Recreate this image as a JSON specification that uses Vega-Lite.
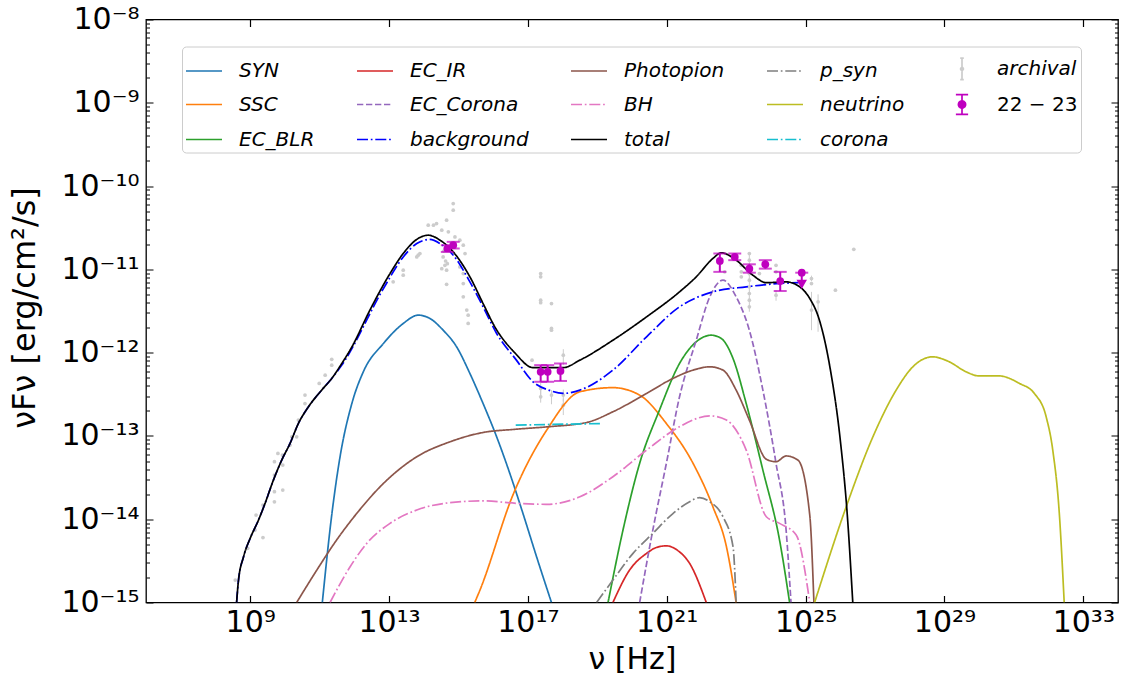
{
  "$schema": "https://vega.github.io/schema/vega-lite/v6.json",
  "width": 972,
  "height": 583,
  "autosize": {"type": "none"},
  "padding": {"left": 146, "top": 19.5, "right": 5, "bottom": 76.5},
  "background": "white",
  "config": {
    "view": {"stroke": "black", "strokeWidth": 1.3},
    "font": "DejaVu Sans",
    "axis": {"grid": false, "domain": false, "tickColor": "black", "labelColor": "black", "titleColor": "black", "titleFontWeight": "normal", "labelFont": "DejaVu Sans", "titleFont": "DejaVu Sans"}
  },
  "datasets": {
    "curves": [
      {"series": "SYN", "nu": 1.2e11, "flux": 1e-15},
      {"series": "SYN", "nu": 2.24e11, "flux": 1.12e-14},
      {"series": "SYN", "nu": 3.89e11, "flux": 5.62e-14},
      {"series": "SYN", "nu": 8.51e11, "flux": 2.45e-13},
      {"series": "SYN", "nu": 1.82e12, "flux": 5.89e-13},
      {"series": "SYN", "nu": 6.92e12, "flux": 1.29e-12},
      {"series": "SYN", "nu": 2.57e13, "flux": 2.24e-12},
      {"series": "SYN", "nu": 6.92e13, "flux": 2.82e-12},
      {"series": "SYN", "nu": 1.51e14, "flux": 2.57e-12},
      {"series": "SYN", "nu": 3.63e14, "flux": 1.86e-12},
      {"series": "SYN", "nu": 8.91e14, "flux": 1.17e-12},
      {"series": "SYN", "nu": 2.14e15, "flux": 5.62e-13},
      {"series": "SYN", "nu": 5.13e15, "flux": 2.45e-13},
      {"series": "SYN", "nu": 1.26e16, "flux": 9.77e-14},
      {"series": "SYN", "nu": 3.02e16, "flux": 3.55e-14},
      {"series": "SYN", "nu": 7.24e16, "flux": 1.17e-14},
      {"series": "SYN", "nu": 1.78e17, "flux": 3.55e-15},
      {"series": "SYN", "nu": 4.79e17, "flux": 1e-15},
      {"series": "SSC", "nu": 2.95e15, "flux": 1e-15},
      {"series": "SSC", "nu": 4.17e15, "flux": 1.41e-15},
      {"series": "SSC", "nu": 3.8e16, "flux": 2.0e-14},
      {"series": "SSC", "nu": 3.47e17, "flux": 1.17e-13},
      {"series": "SSC", "nu": 3.16e18, "flux": 3.39e-13},
      {"series": "SSC", "nu": 2.82e19, "flux": 3.8e-13},
      {"series": "SSC", "nu": 1.66e20, "flux": 3.09e-13},
      {"series": "SSC", "nu": 9.77e20, "flux": 1.41e-13},
      {"series": "SSC", "nu": 5.75e21, "flux": 4.68e-14},
      {"series": "SSC", "nu": 2.14e22, "flux": 1.41e-14},
      {"series": "SSC", "nu": 5.25e22, "flux": 4.68e-15},
      {"series": "SSC", "nu": 1e23, "flux": 1e-15},
      {"series": "EC_BLR", "nu": 2.04e19, "flux": 1e-15},
      {"series": "EC_BLR", "nu": 5.5e19, "flux": 7.41e-15},
      {"series": "EC_BLR", "nu": 1.66e20, "flux": 4.68e-14},
      {"series": "EC_BLR", "nu": 6.17e20, "flux": 2.04e-13},
      {"series": "EC_BLR", "nu": 2.34e21, "flux": 7.41e-13},
      {"series": "EC_BLR", "nu": 7.08e21, "flux": 1.35e-12},
      {"series": "EC_BLR", "nu": 1.91e22, "flux": 1.62e-12},
      {"series": "EC_BLR", "nu": 3.72e22, "flux": 1.48e-12},
      {"series": "EC_BLR", "nu": 8.13e22, "flux": 8.51e-13},
      {"series": "EC_BLR", "nu": 1.95e23, "flux": 2.45e-13},
      {"series": "EC_BLR", "nu": 5.89e23, "flux": 3.89e-14},
      {"series": "EC_BLR", "nu": 1.78e24, "flux": 5.62e-15},
      {"series": "EC_BLR", "nu": 3.47e24, "flux": 1e-15},
      {"series": "EC_IR", "nu": 2.82e19, "flux": 1e-15},
      {"series": "EC_IR", "nu": 8.51e19, "flux": 2.45e-15},
      {"series": "EC_IR", "nu": 2.63e20, "flux": 3.89e-15},
      {"series": "EC_IR", "nu": 5.01e20, "flux": 4.57e-15},
      {"series": "EC_IR", "nu": 9.77e20, "flux": 4.79e-15},
      {"series": "EC_IR", "nu": 2.14e21, "flux": 4.17e-15},
      {"series": "EC_IR", "nu": 4.57e21, "flux": 2.95e-15},
      {"series": "EC_IR", "nu": 1.38e22, "flux": 1e-15},
      {"series": "EC_Corona", "nu": 1.66e20, "flux": 1e-15},
      {"series": "EC_Corona", "nu": 3.98e20, "flux": 7.41e-15},
      {"series": "EC_Corona", "nu": 9.77e20, "flux": 4.68e-14},
      {"series": "EC_Corona", "nu": 2.34e21, "flux": 2.95e-13},
      {"series": "EC_Corona", "nu": 7.08e21, "flux": 1.41e-12},
      {"series": "EC_Corona", "nu": 1.74e22, "flux": 4.68e-12},
      {"series": "EC_Corona", "nu": 4.17e22, "flux": 7.41e-12},
      {"series": "EC_Corona", "nu": 1e23, "flux": 4.68e-12},
      {"series": "EC_Corona", "nu": 2.4e23, "flux": 1.86e-12},
      {"series": "EC_Corona", "nu": 5.89e23, "flux": 3.55e-13},
      {"series": "EC_Corona", "nu": 1.41e24, "flux": 4.68e-14},
      {"series": "EC_Corona", "nu": 2.75e24, "flux": 7.41e-15},
      {"series": "EC_Corona", "nu": 3.8e24, "flux": 1e-15},
      {"series": "Photopion", "nu": 2.19e10, "flux": 1e-15},
      {"series": "Photopion", "nu": 8.32e10, "flux": 2.45e-15},
      {"series": "Photopion", "nu": 3.09e11, "flux": 5.62e-15},
      {"series": "Photopion", "nu": 1.17e12, "flux": 1.17e-14},
      {"series": "Photopion", "nu": 6.92e12, "flux": 2.69e-14},
      {"series": "Photopion", "nu": 6.31e13, "flux": 5.62e-14},
      {"series": "Photopion", "nu": 5.75e14, "flux": 8.51e-14},
      {"series": "Photopion", "nu": 5.13e15, "flux": 1.1e-13},
      {"series": "Photopion", "nu": 4.17e16, "flux": 1.2e-13},
      {"series": "Photopion", "nu": 3.98e17, "flux": 1.29e-13},
      {"series": "Photopion", "nu": 4.9e18, "flux": 1.45e-13},
      {"series": "Photopion", "nu": 2.82e19, "flux": 1.95e-13},
      {"series": "Photopion", "nu": 2.63e20, "flux": 3.24e-13},
      {"series": "Photopion", "nu": 1.51e21, "flux": 4.9e-13},
      {"series": "Photopion", "nu": 5.75e21, "flux": 6.17e-13},
      {"series": "Photopion", "nu": 1.74e22, "flux": 6.76e-13},
      {"series": "Photopion", "nu": 4.17e22, "flux": 6.17e-13},
      {"series": "Photopion", "nu": 1e23, "flux": 3.55e-13},
      {"series": "Photopion", "nu": 2.4e23, "flux": 1.55e-13},
      {"series": "Photopion", "nu": 7.41e23, "flux": 5.25e-14},
      {"series": "Photopion", "nu": 1.41e24, "flux": 4.9e-14},
      {"series": "Photopion", "nu": 2.75e24, "flux": 5.75e-14},
      {"series": "Photopion", "nu": 6.03e24, "flux": 5.13e-14},
      {"series": "Photopion", "nu": 1.32e25, "flux": 1.12e-14},
      {"series": "Photopion", "nu": 1.74e25, "flux": 1e-15},
      {"series": "BH", "nu": 2.0e11, "flux": 1e-15},
      {"series": "BH", "nu": 7.59e11, "flux": 2.69e-15},
      {"series": "BH", "nu": 2.29e12, "flux": 5.13e-15},
      {"series": "BH", "nu": 1.07e13, "flux": 8.91e-15},
      {"series": "BH", "nu": 6.31e13, "flux": 1.29e-14},
      {"series": "BH", "nu": 5.75e14, "flux": 1.58e-14},
      {"series": "BH", "nu": 5.13e15, "flux": 1.66e-14},
      {"series": "BH", "nu": 4.68e16, "flux": 1.55e-14},
      {"series": "BH", "nu": 3.47e17, "flux": 1.51e-14},
      {"series": "BH", "nu": 3.16e18, "flux": 1.86e-14},
      {"series": "BH", "nu": 2.82e19, "flux": 3.24e-14},
      {"series": "BH", "nu": 2.63e20, "flux": 6.76e-14},
      {"series": "BH", "nu": 2.34e21, "flux": 1.29e-13},
      {"series": "BH", "nu": 1.74e22, "flux": 1.74e-13},
      {"series": "BH", "nu": 5.25e22, "flux": 1.55e-13},
      {"series": "BH", "nu": 1.95e23, "flux": 6.76e-14},
      {"series": "BH", "nu": 7.41e23, "flux": 1.07e-14},
      {"series": "BH", "nu": 1.78e24, "flux": 8.91e-15},
      {"series": "BH", "nu": 5.37e24, "flux": 6.46e-15},
      {"series": "BH", "nu": 1.32e25, "flux": 1e-15},
      {"series": "p_syn", "nu": 9.55e18, "flux": 1e-15},
      {"series": "p_syn", "nu": 2.82e19, "flux": 1.86e-15},
      {"series": "p_syn", "nu": 1.07e20, "flux": 3.89e-15},
      {"series": "p_syn", "nu": 3.98e20, "flux": 6.76e-15},
      {"series": "p_syn", "nu": 1.51e21, "flux": 1.17e-14},
      {"series": "p_syn", "nu": 4.57e21, "flux": 1.62e-14},
      {"series": "p_syn", "nu": 8.91e21, "flux": 1.82e-14},
      {"series": "p_syn", "nu": 1.74e22, "flux": 1.62e-14},
      {"series": "p_syn", "nu": 4.17e22, "flux": 1.07e-14},
      {"series": "p_syn", "nu": 8.13e22, "flux": 4.68e-15},
      {"series": "p_syn", "nu": 1e23, "flux": 1e-15},
      {"series": "neutrino", "nu": 1.82e25, "flux": 1e-15},
      {"series": "neutrino", "nu": 1.48e26, "flux": 1.41e-14},
      {"series": "neutrino", "nu": 8.71e26, "flux": 9.77e-14},
      {"series": "neutrino", "nu": 4.07e27, "flux": 3.55e-13},
      {"series": "neutrino", "nu": 1.23e28, "flux": 6.76e-13},
      {"series": "neutrino", "nu": 4.57e28, "flux": 8.91e-13},
      {"series": "neutrino", "nu": 1.38e29, "flux": 7.76e-13},
      {"series": "neutrino", "nu": 4.17e29, "flux": 5.89e-13},
      {"series": "neutrino", "nu": 1.02e30, "flux": 5.25e-13},
      {"series": "neutrino", "nu": 3.8e30, "flux": 5.25e-13},
      {"series": "neutrino", "nu": 1.45e31, "flux": 4.27e-13},
      {"series": "neutrino", "nu": 3.89e31, "flux": 3.24e-13},
      {"series": "neutrino", "nu": 8.51e31, "flux": 1.7e-13},
      {"series": "neutrino", "nu": 1.32e32, "flux": 6.76e-14},
      {"series": "neutrino", "nu": 2.04e32, "flux": 1.17e-14},
      {"series": "neutrino", "nu": 2.82e32, "flux": 1e-15},
      {"series": "corona", "nu": 4.47e16, "flux": 1.35e-13},
      {"series": "corona", "nu": 1.41e19, "flux": 1.41e-13},
      {"series": "background", "nu": 4.07e8, "flux": 1e-15},
      {"series": "background", "nu": 4.57e8, "flux": 1.78e-15},
      {"series": "background", "nu": 6.46e8, "flux": 3.55e-15},
      {"series": "background", "nu": 1e9, "flux": 5.89e-15},
      {"series": "background", "nu": 1.74e9, "flux": 9.77e-15},
      {"series": "background", "nu": 2.69e9, "flux": 1.55e-14},
      {"series": "background", "nu": 4.68e9, "flux": 2.95e-14},
      {"series": "background", "nu": 8.13e9, "flux": 5.13e-14},
      {"series": "background", "nu": 1.41e10, "flux": 8.13e-14},
      {"series": "background", "nu": 2.45e10, "flux": 1.41e-13},
      {"series": "background", "nu": 4.79e10, "flux": 2.24e-13},
      {"series": "background", "nu": 1.15e11, "flux": 3.55e-13},
      {"series": "background", "nu": 2.24e11, "flux": 4.9e-13},
      {"series": "background", "nu": 4.37e11, "flux": 7.08e-13},
      {"series": "background", "nu": 6.92e12, "flux": 5.89e-12},
      {"series": "background", "nu": 2.57e13, "flux": 1.41e-11},
      {"series": "background", "nu": 6.31e13, "flux": 2.04e-11},
      {"series": "background", "nu": 1.51e14, "flux": 2.29e-11},
      {"series": "background", "nu": 2.95e14, "flux": 2.04e-11},
      {"series": "background", "nu": 7.08e14, "flux": 1.48e-11},
      {"series": "background", "nu": 2.14e15, "flux": 7.08e-12},
      {"series": "background", "nu": 5.13e15, "flux": 3.55e-12},
      {"series": "background", "nu": 1.26e16, "flux": 1.7e-12},
      {"series": "background", "nu": 4.68e16, "flux": 8.13e-13},
      {"series": "background", "nu": 1.41e17, "flux": 4.47e-13},
      {"series": "background", "nu": 3.98e17, "flux": 3.55e-13},
      {"series": "background", "nu": 1.05e18, "flux": 3.24e-13},
      {"series": "background", "nu": 3.16e18, "flux": 3.55e-13},
      {"series": "background", "nu": 2.82e19, "flux": 6.17e-13},
      {"series": "background", "nu": 2.63e20, "flux": 1.55e-12},
      {"series": "background", "nu": 2.34e21, "flux": 3.55e-12},
      {"series": "background", "nu": 2.14e22, "flux": 5.37e-12},
      {"series": "background", "nu": 1.95e23, "flux": 6.17e-12},
      {"series": "background", "nu": 1.78e24, "flux": 6.76e-12},
      {"series": "background", "nu": 6.31e24, "flux": 6.92e-12},
      {"series": "total", "nu": 4.07e8, "flux": 1e-15},
      {"series": "total", "nu": 4.57e8, "flux": 1.78e-15},
      {"series": "total", "nu": 6.46e8, "flux": 3.55e-15},
      {"series": "total", "nu": 1e9, "flux": 5.89e-15},
      {"series": "total", "nu": 1.74e9, "flux": 9.77e-15},
      {"series": "total", "nu": 2.69e9, "flux": 1.55e-14},
      {"series": "total", "nu": 4.68e9, "flux": 2.95e-14},
      {"series": "total", "nu": 8.13e9, "flux": 5.13e-14},
      {"series": "total", "nu": 1.41e10, "flux": 8.13e-14},
      {"series": "total", "nu": 2.45e10, "flux": 1.41e-13},
      {"series": "total", "nu": 4.79e10, "flux": 2.24e-13},
      {"series": "total", "nu": 1.15e11, "flux": 3.55e-13},
      {"series": "total", "nu": 2.24e11, "flux": 4.9e-13},
      {"series": "total", "nu": 4.37e11, "flux": 7.41e-13},
      {"series": "total", "nu": 8.51e11, "flux": 1.17e-12},
      {"series": "total", "nu": 2.82e12, "flux": 3.24e-12},
      {"series": "total", "nu": 1.07e13, "flux": 8.91e-12},
      {"series": "total", "nu": 2.57e13, "flux": 1.55e-11},
      {"series": "total", "nu": 6.31e13, "flux": 2.29e-11},
      {"series": "total", "nu": 1.35e14, "flux": 2.57e-11},
      {"series": "total", "nu": 2.95e14, "flux": 2.24e-11},
      {"series": "total", "nu": 7.08e14, "flux": 1.62e-11},
      {"series": "total", "nu": 2.14e15, "flux": 8.13e-12},
      {"series": "total", "nu": 5.13e15, "flux": 3.89e-12},
      {"series": "total", "nu": 1.12e16, "flux": 2.04e-12},
      {"series": "total", "nu": 4.17e16, "flux": 1.0e-12},
      {"series": "total", "nu": 1.41e17, "flux": 6.61e-13},
      {"series": "total", "nu": 1.05e18, "flux": 6.61e-13},
      {"series": "total", "nu": 3.16e18, "flux": 8.13e-13},
      {"series": "total", "nu": 2.82e19, "flux": 1.41e-12},
      {"series": "total", "nu": 2.63e20, "flux": 2.69e-12},
      {"series": "total", "nu": 2.34e21, "flux": 5.37e-12},
      {"series": "total", "nu": 7.08e21, "flux": 8.13e-12},
      {"series": "total", "nu": 2.14e22, "flux": 1.35e-11},
      {"series": "total", "nu": 3.72e22, "flux": 1.58e-11},
      {"series": "total", "nu": 1e23, "flux": 1.29e-11},
      {"series": "total", "nu": 3.02e23, "flux": 8.51e-12},
      {"series": "total", "nu": 7.41e23, "flux": 6.92e-12},
      {"series": "total", "nu": 2.75e24, "flux": 7.08e-12},
      {"series": "total", "nu": 6.76e24, "flux": 6.17e-12},
      {"series": "total", "nu": 1.32e25, "flux": 4.47e-12},
      {"series": "total", "nu": 2.51e25, "flux": 2.45e-12},
      {"series": "total", "nu": 5.01e25, "flux": 6.76e-13},
      {"series": "total", "nu": 1e26, "flux": 8.91e-14},
      {"series": "total", "nu": 1.58e26, "flux": 1.17e-14},
      {"series": "total", "nu": 2.29e26, "flux": 1e-15}
    ],
    "archival": [
      {"nu": 3.72e8, "flux": 1.86e-15},
      {"nu": 8.51e8, "flux": 4.47e-15},
      {"nu": 1.38e9, "flux": 7.41e-15},
      {"nu": 1.48e9, "flux": 1.12e-14},
      {"nu": 2.34e9, "flux": 6.03e-15},
      {"nu": 2.34e9, "flux": 1.48e-14},
      {"nu": 5.01e9, "flux": 1.62e-14},
      {"nu": 5.01e9, "flux": 2.14e-14},
      {"nu": 5.01e9, "flux": 3.39e-14},
      {"nu": 5.01e9, "flux": 4.9e-14},
      {"nu": 6.31e9, "flux": 6.17e-14},
      {"nu": 8.71e9, "flux": 2.24e-14},
      {"nu": 8.71e9, "flux": 4.47e-14},
      {"nu": 8.51e9, "flux": 5.89e-14},
      {"nu": 1.41e10, "flux": 7.76e-14},
      {"nu": 1.58e10, "flux": 9.77e-14},
      {"nu": 2.19e10, "flux": 9.77e-14},
      {"nu": 2.45e10, "flux": 1.55e-13},
      {"nu": 3.8e10, "flux": 2.45e-13},
      {"nu": 3.8e10, "flux": 3.09e-13},
      {"nu": 9.77e10, "flux": 4.27e-13},
      {"nu": 1.45e11, "flux": 5.37e-13},
      {"nu": 2.24e11, "flux": 7.08e-13},
      {"nu": 2.24e11, "flux": 8.32e-13},
      {"nu": 1.32e13, "flux": 7.08e-12},
      {"nu": 2.57e13, "flux": 9.77e-12},
      {"nu": 2.57e13, "flux": 8.51e-12},
      {"nu": 6.31e13, "flux": 1.41e-11},
      {"nu": 7.76e13, "flux": 1.55e-11},
      {"nu": 6.92e13, "flux": 1.48e-11},
      {"nu": 1.35e14, "flux": 3.39e-11},
      {"nu": 1.91e14, "flux": 3.39e-11},
      {"nu": 2.34e14, "flux": 3.55e-11},
      {"nu": 3.31e14, "flux": 2.95e-11},
      {"nu": 5.13e14, "flux": 2.82e-11},
      {"nu": 4.57e14, "flux": 3.89e-11},
      {"nu": 7.08e14, "flux": 6.17e-11},
      {"nu": 7.08e14, "flux": 5.13e-11},
      {"nu": 7.94e14, "flux": 2.45e-11},
      {"nu": 1.1e15, "flux": 2.24e-11},
      {"nu": 1.38e15, "flux": 1.95e-11},
      {"nu": 1.55e15, "flux": 1.55e-11},
      {"nu": 3.63e14, "flux": 1.41e-11},
      {"nu": 4.07e14, "flux": 1.12e-11},
      {"nu": 4.57e14, "flux": 9.77e-12},
      {"nu": 3.31e14, "flux": 1.02e-11},
      {"nu": 4.27e14, "flux": 1.26e-11},
      {"nu": 4.79e14, "flux": 1.17e-11},
      {"nu": 3.8e14, "flux": 1.66e-11},
      {"nu": 1.1e15, "flux": 1.07e-11},
      {"nu": 1.38e15, "flux": 8.91e-12},
      {"nu": 4.57e14, "flux": 6.61e-12},
      {"nu": 1.38e15, "flux": 6.76e-12},
      {"nu": 1.38e15, "flux": 4.68e-12},
      {"nu": 1.74e15, "flux": 3.24e-12},
      {"nu": 1.91e15, "flux": 2.82e-12},
      {"nu": 1.91e15, "flux": 2.24e-12},
      {"nu": 2.34e17, "flux": 8.91e-12},
      {"nu": 2.34e17, "flux": 8.13e-12},
      {"nu": 2.34e17, "flux": 4.27e-12},
      {"nu": 2.34e17, "flux": 3.98e-12},
      {"nu": 4.79e17, "flux": 3.89e-12},
      {"nu": 4.79e17, "flux": 1.95e-12},
      {"nu": 4.79e17, "flux": 1.86e-12},
      {"nu": 1.32e17, "flux": 8.13e-13},
      {"nu": 2.34e17, "flux": 3.72e-13, "lo": 2.95e-13, "hi": 4.47e-13},
      {"nu": 2.34e17, "flux": 2.95e-13, "lo": 2.51e-13, "hi": 3.55e-13},
      {"nu": 4.79e17, "flux": 3.09e-13, "lo": 2.4e-13, "hi": 3.55e-13},
      {"nu": 1.05e18, "flux": 9.33e-13, "lo": 7.08e-13, "hi": 1.1e-12},
      {"nu": 1.05e18, "flux": 3.09e-13, "lo": 2.6e-13, "hi": 3.6e-13},
      {"nu": 1.05e18, "flux": 2.34e-13, "lo": 1.78e-13, "hi": 2.8e-13},
      {"nu": 4.68e22, "flux": 9.33e-12},
      {"nu": 1.41e23, "flux": 1.12e-11},
      {"nu": 1.41e23, "flux": 9.33e-12},
      {"nu": 1.41e23, "flux": 8.13e-12},
      {"nu": 2.4e23, "flux": 1.55e-11},
      {"nu": 2.4e23, "flux": 1.29e-11},
      {"nu": 2.4e23, "flux": 1.07e-11},
      {"nu": 2.4e23, "flux": 8.91e-12},
      {"nu": 2.4e23, "flux": 7.41e-12},
      {"nu": 2.4e23, "flux": 6.17e-12},
      {"nu": 2.4e23, "flux": 5.13e-12},
      {"nu": 2.4e23, "flux": 4.27e-12},
      {"nu": 2.4e23, "flux": 3.55e-12, "lo": 3.1e-12, "hi": 1.6e-11},
      {"nu": 4.68e23, "flux": 8.91e-12},
      {"nu": 1.41e24, "flux": 1.12e-11},
      {"nu": 1.41e24, "flux": 9.33e-12},
      {"nu": 1.41e24, "flux": 4.9e-12, "lo": 4.2e-12, "hi": 5.6e-12},
      {"nu": 1.48e25, "flux": 7.76e-12, "lo": 7.2e-12, "hi": 8.4e-12},
      {"nu": 1.48e25, "flux": 6.76e-12},
      {"nu": 1.48e25, "flux": 3.24e-12, "lo": 1.86e-12, "hi": 5.37e-12},
      {"nu": 2.29e25, "flux": 4.07e-12, "lo": 1.78e-12, "hi": 5.01e-12},
      {"nu": 7.24e25, "flux": 5.62e-12},
      {"nu": 2.45e26, "flux": 1.74e-11}
    ],
    "obs": [
      {"nu": 4.79e14, "flux": 1.78e-11, "lo": 1.62e-11, "hi": 1.95e-11, "ul": false},
      {"nu": 7.08e14, "flux": 1.95e-11, "lo": 1.78e-11, "hi": 2.14e-11, "ul": false},
      {"nu": 2.34e17, "flux": 5.89e-13, "lo": 4.47e-13, "hi": 7.08e-13, "ul": false},
      {"nu": 3.72e17, "flux": 5.89e-13, "lo": 4.47e-13, "hi": 7.08e-13, "ul": false},
      {"nu": 8.71e17, "flux": 6.03e-13, "lo": 4.57e-13, "hi": 7.41e-13, "ul": false},
      {"nu": 3.39e22, "flux": 1.26e-11, "lo": 9.33e-12, "hi": 1.55e-11, "ul": false},
      {"nu": 9.12e22, "flux": 1.41e-11, "lo": 1.29e-11, "hi": 1.55e-11, "ul": false},
      {"nu": 2.4e23, "flux": 1.02e-11, "lo": 9.12e-12, "hi": 1.15e-11, "ul": false},
      {"nu": 6.92e23, "flux": 1.15e-11, "lo": 1.02e-11, "hi": 1.29e-11, "ul": false},
      {"nu": 1.86e24, "flux": 7.24e-12, "lo": 5.5e-12, "hi": 9.33e-12, "ul": false},
      {"nu": 7.76e24, "flux": 9.12e-12, "lo": 6.6e-12, "hi": 9.12e-12, "ul": true}
    ]
  },
  "layer": [
    {
      "data": {"name": "archival"},
      "transform": [{"filter": "isValid(datum.lo)"}],
      "mark": {"type": "rule", "color": "#cccccc", "strokeWidth": 1},
      "encoding": {
        "x": {"field": "nu", "type": "quantitative", "scale": {"type": "log", "domain": [1e6, 1e34]}, "axis": null},
        "y": {"field": "lo", "type": "quantitative", "scale": {"type": "log", "domain": [1e-15, 1e-8]}, "axis": null},
        "y2": {"field": "hi"}
      }
    },
    {
      "data": {"name": "archival"},
      "mark": {"type": "point", "filled": true, "shape": "circle", "size": 14, "color": "#cccccc", "opacity": 1},
      "encoding": {
        "x": {"field": "nu", "type": "quantitative", "axis": {"orient": "top", "values": [1e9, 1e13, 1e17, 1e21, 1e25, 1e29, 1e33], "tickSize": -7, "tickWidth": 1.2, "labels": false, "title": null}},
        "y": {"field": "flux", "type": "quantitative", "axis": {"orient": "right", "values": [1e-15,2e-15,3e-15,4e-15,5e-15,6e-15,7e-15,8e-15,9e-15,1e-14,2e-14,3e-14,4e-14,5e-14,6e-14,7e-14,8e-14,9e-14,1e-13,2e-13,3e-13,4e-13,5e-13,6e-13,7e-13,8e-13,9e-13,1e-12,2e-12,3e-12,4e-12,5e-12,6e-12,7e-12,8e-12,9e-12,1e-11,2e-11,3e-11,4e-11,5e-11,6e-11,7e-11,8e-11,9e-11,1e-10,2e-10,3e-10,4e-10,5e-10,6e-10,7e-10,8e-10,9e-10,1e-9,2e-9,3e-9,4e-9,5e-9,6e-9,7e-9,8e-9,9e-9,1e-8], "tickSize": {"condition": {"test": "abs(log(datum.value)/LN10 - round(log(datum.value)/LN10)) < 0.001", "value": -7}, "value": -3.5}, "tickWidth": 1, "labels": false, "title": null}}
      }
    },
    {
      "data": {"name": "curves"},
      "mark": {"type": "line", "strokeWidth": 1.7, "clip": true, "interpolate": "monotone"},
      "encoding": {
        "x": {"field": "nu", "type": "quantitative", "axis": {"orient": "bottom", "values": [1e9, 1e13, 1e17, 1e21, 1e25, 1e29, 1e33], "tickSize": -7, "tickWidth": 1.2, "labelFontSize": 30, "labelPadding": 12, "labelFlush": false, "labelOverlap": false, "labelExpr": "'10' + (round(log(datum.value)/LN10) >= 10 ? ['⁰','¹','²','³','⁴','⁵','⁶','⁷','⁸','⁹'][floor(round(log(datum.value)/LN10)/10)] : '') + ['⁰','¹','²','³','⁴','⁵','⁶','⁷','⁸','⁹'][round(log(datum.value)/LN10) % 10]", "title": "ν [Hz]", "titleFontSize": 30, "titlePadding": 7}},
        "y": {"field": "flux", "type": "quantitative", "axis": {"orient": "left", "values": [1e-15,2e-15,3e-15,4e-15,5e-15,6e-15,7e-15,8e-15,9e-15,1e-14,2e-14,3e-14,4e-14,5e-14,6e-14,7e-14,8e-14,9e-14,1e-13,2e-13,3e-13,4e-13,5e-13,6e-13,7e-13,8e-13,9e-13,1e-12,2e-12,3e-12,4e-12,5e-12,6e-12,7e-12,8e-12,9e-12,1e-11,2e-11,3e-11,4e-11,5e-11,6e-11,7e-11,8e-11,9e-11,1e-10,2e-10,3e-10,4e-10,5e-10,6e-10,7e-10,8e-10,9e-10,1e-9,2e-9,3e-9,4e-9,5e-9,6e-9,7e-9,8e-9,9e-9,1e-8], "tickSize": {"condition": {"test": "abs(log(datum.value)/LN10 - round(log(datum.value)/LN10)) < 0.001", "value": -7}, "value": -3.5}, "tickWidth": 1, "labelFontSize": 30, "labelPadding": 14, "labelFlush": false, "labelOverlap": false, "labelExpr": "abs(log(datum.value)/LN10 - round(log(datum.value)/LN10)) > 0.001 ? '' : '10⁻' + (-round(log(datum.value)/LN10) >= 10 ? ['⁰','¹','²','³','⁴','⁵','⁶','⁷','⁸','⁹'][floor(-round(log(datum.value)/LN10)/10)] : '') + ['⁰','¹','²','³','⁴','⁵','⁶','⁷','⁸','⁹'][(-round(log(datum.value)/LN10)) % 10]", "title": "νFν [erg/cm²/s]", "titleFontSize": 32, "titleX": -105, "titleY": 288}},
        "color": {"field": "series", "type": "nominal", "scale": {"domain": ["SYN","SSC","EC_BLR","EC_IR","EC_Corona","background","Photopion","BH","total","p_syn","neutrino","corona","archival","22 − 23"], "range": ["#1f77b4","#ff7f0e","#2ca02c","#d62728","#9467bd","#0000ff","#8c564b","#e377c2","#000000","#7f7f7f","#bcbd22","#17becf","#cccccc","#bf00bf"]}, "legend": {"title": null, "orient": "none", "legendX": 36, "legendY": 27, "columns": 5, "gridAlign": "each", "symbolSize": 1296, "symbolStrokeWidth": 1.7, "symbolOpacity": 1, "labelFont": "DejaVu Sans", "labelFontSize": 20, "labelColor": "black", "labelFontStyle": {"expr": "datum.label == '22 − 23' ? 'normal' : 'italic'"}, "labelOffset": 16, "labelLimit": 300, "columnPadding": 38, "rowPadding": 2, "padding": 3, "fillColor": "white", "strokeColor": "#cccccc", "cornerRadius": 4}},
        "strokeDash": {"field": "series", "type": "nominal", "scale": {"domain": ["SYN","SSC","EC_BLR","EC_IR","EC_Corona","background","Photopion","BH","total","p_syn","neutrino","corona","archival","22 − 23"], "range": [[1,0],[1,0],[1,0],[1,0],[6.3,2.7],[11,2.8,1.7,2.8],[1,0],[11,2.8,1.7,2.8],[1,0],[11,2.8,1.7,2.8],[1,0],[11,2.8,1.7,2.8],[1,0],[1,0]]}, "legend": {"title": null, "orient": "none", "legendX": 36, "legendY": 27, "columns": 5, "gridAlign": "each", "symbolSize": 1296, "symbolStrokeWidth": 1.7, "symbolOpacity": 1, "labelFont": "DejaVu Sans", "labelFontSize": 20, "labelColor": "black", "labelOffset": 16, "labelLimit": 300, "columnPadding": 38, "rowPadding": 2, "padding": 3, "fillColor": "white", "strokeColor": "#cccccc", "cornerRadius": 4}}
      }
    },
    {
      "data": {"name": "obs"},
      "mark": {"type": "rule", "color": "#bf00bf", "strokeWidth": 2},
      "encoding": {
        "x": {"field": "nu", "type": "quantitative", "axis": null},
        "y": {"field": "lo", "type": "quantitative", "axis": null},
        "y2": {"field": "hi"}
      }
    },
    {
      "data": {"name": "obs"},
      "transform": [{"filter": "!datum.ul"}],
      "mark": {"type": "tick", "orient": "horizontal", "color": "#bf00bf", "size": 13, "thickness": 2},
      "encoding": {
        "x": {"field": "nu", "type": "quantitative", "axis": null},
        "y": {"field": "lo", "type": "quantitative", "axis": null}
      }
    },
    {
      "data": {"name": "obs"},
      "mark": {"type": "tick", "orient": "horizontal", "color": "#bf00bf", "size": 13, "thickness": 2},
      "encoding": {
        "x": {"field": "nu", "type": "quantitative", "axis": null},
        "y": {"field": "hi", "type": "quantitative", "axis": null}
      }
    },
    {
      "data": {"name": "obs"},
      "transform": [{"filter": "datum.ul"}],
      "mark": {"type": "point", "shape": "triangle-down", "filled": true, "size": 110, "color": "#bf00bf", "opacity": 1},
      "encoding": {
        "x": {"field": "nu", "type": "quantitative", "axis": null},
        "y": {"field": "lo", "type": "quantitative", "axis": null}
      }
    },
    {
      "data": {"name": "obs"},
      "mark": {"type": "point", "shape": "circle", "filled": true, "size": 60, "color": "#bf00bf", "opacity": 1},
      "encoding": {
        "x": {"field": "nu", "type": "quantitative", "axis": null},
        "y": {"field": "flux", "type": "quantitative", "axis": null}
      }
    },
    {
      "data": {"name": "curves"},
      "mark": {"type": "point", "filled": true, "opacity": 0},
      "encoding": {
        "x": {"field": "nu", "type": "quantitative", "axis": null},
        "y": {"field": "flux", "type": "quantitative", "axis": null},
        "fill": {"field": "series", "type": "nominal", "scale": {"domain": ["SYN","SSC","EC_BLR","EC_IR","EC_Corona","background","Photopion","BH","total","p_syn","neutrino","corona","archival","22 − 23"], "range": ["#1f77b4","#ff7f0e","#2ca02c","#d62728","#9467bd","#0000ff","#8c564b","#e377c2","#000000","#7f7f7f","#bcbd22","#17becf","#cccccc","#bf00bf"]}, "legend": {"title": null, "orient": "none", "legendX": 36, "legendY": 27, "columns": 5, "gridAlign": "each", "symbolSize": 1296, "symbolStrokeWidth": 1.7, "symbolOpacity": 1, "labelFont": "DejaVu Sans", "labelFontSize": 20, "labelColor": "black", "labelOffset": 16, "labelLimit": 300, "columnPadding": 38, "rowPadding": 2, "padding": 3, "fillColor": "white", "strokeColor": "#cccccc", "cornerRadius": 4}},
        "shape": {"field": "series", "type": "nominal", "scale": {"domain": ["SYN","SSC","EC_BLR","EC_IR","EC_Corona","background","Photopion","BH","total","p_syn","neutrino","corona","archival","22 − 23"], "range": ["stroke","stroke","stroke","stroke","stroke","stroke","stroke","stroke","stroke","stroke","stroke","stroke","M0,-0.6V0.6M-0.1,-0.6H0.1M-0.1,0.6H0.1M-0.08,0A0.08,0.08 0 1,0 0.08,0A0.08,0.08 0 1,0 -0.08,0Z","M0,-0.55V0.55M-0.34,-0.55H0.34M-0.34,0.55H0.34M-0.2,0A0.2,0.2 0 1,0 0.2,0A0.2,0.2 0 1,0 -0.2,0Z"]}, "legend": {"title": null, "orient": "none", "legendX": 36, "legendY": 27, "columns": 5, "gridAlign": "each", "symbolSize": 1296, "symbolStrokeWidth": 1.7, "symbolOpacity": 1, "labelFont": "DejaVu Sans", "labelFontSize": 20, "labelColor": "black", "labelOffset": 16, "labelLimit": 300, "columnPadding": 38, "rowPadding": 2, "padding": 3, "fillColor": "white", "strokeColor": "#cccccc", "cornerRadius": 4}}
      }
    }
  ],
  "resolve": {"axis": {"x": "independent", "y": "independent"}}
}
